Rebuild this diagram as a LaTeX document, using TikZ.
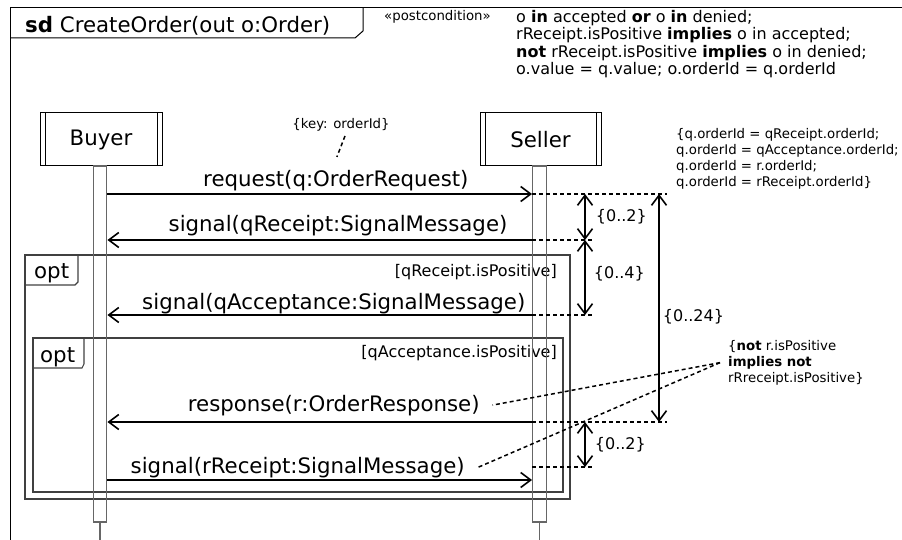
\documentclass[tikz,border=0pt]{standalone}
\usepackage{fontspec}
\setmainfont{DejaVu Sans}
\usetikzlibrary{arrows.meta}

\newcommand{\sdbig}{\fontsize{21.3}{25}\selectfont}
\newcommand{\sdmid}{\fontsize{16}{17.4}\selectfont}
\newcommand{\sdsmall}{\fontsize{13.3}{16}\selectfont}

\begin{document}
\begin{tikzpicture}[x=1pt,y=-1pt]
% Definição de estilos
\tikzset{
  lifeline/.style={rectangle, draw, line width=1pt, minimum width=122pt, minimum height=53pt, font=\sdbig,
    path picture={
      \draw[line width=1pt] ([xshift=5pt]path picture bounding box.north west) -- ([xshift=5pt]path picture bounding box.south west);
      \draw[line width=1pt] ([xshift=-5pt]path picture bounding box.north east) -- ([xshift=-5pt]path picture bounding box.south east);}},
  activation/.style={rectangle, draw=black!60, line width=1.4pt, minimum width=13.5pt, minimum height=356pt, inner sep=0pt},
  msg/.style={line width=1.8pt, -{Straight Barb[length=10pt,width=15pt,line width=1.6pt]}},
  msglabel/.style={font=\sdbig, anchor=base, inner sep=0pt},
  fragment/.style={draw=black!75, line width=1.1pt},
  optlabel/.style={font=\sdbig, anchor=base west, inner sep=0pt},
  guard/.style={font=\sdmid, anchor=base east, inner sep=0pt},
  timeguide/.style={line width=1.5pt, dash pattern=on 4pt off 3pt},
  timing/.style={line width=1.8pt, {Straight Barb[length=10pt,width=15pt,line width=1.6pt]}-{Straight Barb[length=10pt,width=15pt,line width=1.6pt]}},
  timelabel/.style={font=\sdmid, anchor=west, inner sep=0pt},
  notetext/.style={font=\sdsmall, inner sep=0pt},
  noteline/.style={line width=1.5pt, dash pattern=on 4pt off 3pt}
}
\useasboundingbox (0,0) rectangle (902,540);

% Moldura do diagrama
\draw[line width=1pt] (902,8) -- (10,8) -- (10,540);
\draw[line width=1pt] (10,38) -- (355,38) -- (363,31) -- (363,8);
\node[anchor=base west, font=\sdbig, inner sep=0pt] (sdtitle) at (25,33) {\textbf{sd} CreateOrder(out o:Order)};

% Pós-condição
\node[anchor=base west, font=\sdsmall, inner sep=0pt] (stereo) at (384,21) {«postcondition»};
\node[anchor=north west, font=\sdmid, inner sep=0pt, align=left] (postcond) at (516,10) {o \textbf{in} accepted \textbf{or} o \textbf{in} denied;\\
rReceipt.isPositive \textbf{implies} o in accepted;\\
\textbf{not} rReceipt.isPositive \textbf{implies} o in denied;\\
o.value = q.value; o.orderId = q.orderId};

% Fragmentos opt
\draw[fragment] (25,255) rectangle (570,499);
\draw[fragment] (25,285) -- (75,285) -- (78,282) -- (78,255);
\node[optlabel] (opt1) at (34,278) {opt};
\node[guard] (guard1) at (557,276) {[qReceipt.isPositive]};

\draw[fragment] (33,338) rectangle (563,492);
\draw[fragment] (33,368) -- (82,368) -- (84,364) -- (84,338);
\node[optlabel] (opt2) at (40,362) {opt};
\node[guard] (guard2) at (557,357) {[qAcceptance.isPositive]};

% Linhas de vida
\node[lifeline] (buyer) at (101,139.5) {Buyer};
\node[lifeline, minimum width=121pt] (seller) at (540.5,139.5) {Seller};
\node[activation] (buyerbar) at (100,344) {};
\node[activation] (sellerbar) at (539.5,344) {};
\draw[line width=1.2pt, black!60] (buyerbar.south) -- ++(0,18);
\draw[line width=1.2pt, black!60] (sellerbar.south) -- ++(0,18);

% Linhas das mensagens
\coordinate (r1) at (0,194);
\coordinate (r2) at (0,240);
\coordinate (r3) at (0,315);
\coordinate (r4) at (0,422);
\coordinate (r5) at (0,480);

% Mensagens
\draw[msg] (buyerbar.east |- r1) -- node[msglabel, pos=0.538, yshift=7pt] (m1lbl) {request(q:OrderRequest)} (sellerbar.west |- r1);
\draw[msg] (sellerbar.west |- r2) -- node[msglabel, pos=0.457, yshift=8pt] (m2lbl) {signal(qReceipt:SignalMessage)} (buyerbar.east |- r2);
\draw[msg] (sellerbar.west |- r3) -- node[msglabel, pos=0.467, yshift=6pt] (m3lbl) {signal(qAcceptance:SignalMessage)} (buyerbar.east |- r3);
\draw[msg] (sellerbar.west |- r4) -- node[msglabel, pos=0.467, yshift=11pt] (m4lbl) {response(r:OrderResponse)} (buyerbar.east |- r4);
\draw[msg] (buyerbar.east |- r5) -- node[msglabel, pos=0.448, yshift=7pt] (m5lbl) {signal(rReceipt:SignalMessage)} (sellerbar.west |- r5);

% Restrições de tempo
\coordinate (t1) at (667,194);
\coordinate (t2) at (592,240);
\coordinate (t3) at (592,315);
\coordinate (t4) at (667,422);
\coordinate (t5) at (592,467);
\coordinate (kx) at (585,0);
\coordinate (bigx) at (659,0);

\draw[timeguide] (sellerbar.west |- t1) -- (t1);
\draw[timeguide] (sellerbar.west |- t2) -- (t2);
\draw[timeguide] (sellerbar.west |- t3) -- (t3);
\draw[timeguide] (sellerbar.west |- t4) -- (t4);
\draw[timeguide] (sellerbar.west |- t5) -- (t5);

\draw[timing] (kx |- t1) -- node[timelabel, xshift=10pt] (dur1) {\{0..2\}} (kx |- t2);
\draw[timing] (kx |- t2) -- node[timelabel, pos=0.45, xshift=8pt] (dur2) {\{0..4\}} (kx |- t3);
\draw[timing] (bigx |- t1) -- node[timelabel, pos=0.54, xshift=3pt] (dur3) {\{0..24\}} (bigx |- t4);
\draw[timing] (kx |- t4) -- node[timelabel, xshift=9pt] (dur4) {\{0..2\}} (kx |- t5);

% Notas
\node[notetext, anchor=base] (keynote) at (341,129) {\{key: orderId\}};
\draw[noteline] ([xshift=4pt,yshift=-4pt]keynote.south) -- ([xshift=1pt,yshift=13pt]m1lbl.north);

\node[notetext, anchor=north west, align=left] (idnote) at (676,128) {\{q.orderId = qReceipt.orderId;\\
q.orderId = qAcceptance.orderId;\\
q.orderId = r.orderId;\\
q.orderId = rReceipt.orderId\}};

\node[notetext, anchor=north west, align=left] (negnote) at (728,340) {\{\textbf{not} r.isPositive\\
\textbf{implies not}\\
rRreceipt.isPositive\}};
\draw[noteline] ([xshift=-8pt]negnote.west) -- ([xshift=12pt]m4lbl.east);
\draw[noteline] ([xshift=-8pt]negnote.west) -- ([xshift=13pt]m5lbl.east);

\end{tikzpicture}
\end{document}
